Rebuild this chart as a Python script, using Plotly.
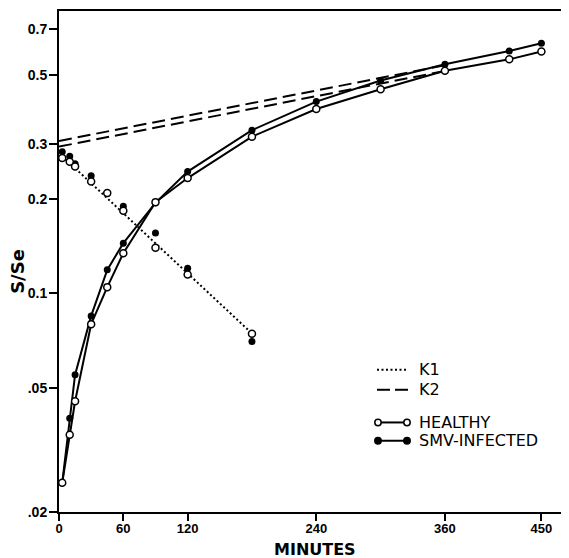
import plotly.graph_objects as go
import math

# ---- data ----
minutes = [3, 10, 15, 30, 45, 60, 90, 120, 180, 240, 300, 360, 420, 450]
healthy = [0.0248, 0.0353, 0.0452, 0.0798, 0.1048, 0.1346, 0.196, 0.234, 0.3175, 0.389, 0.450, 0.516, 0.561, 0.594]
smv = [0.0248, 0.0399, 0.055, 0.0848, 0.119, 0.1449, 0.195, 0.2454, 0.333, 0.411, 0.480, 0.541, 0.597, 0.632]

k1_minutes = [3, 10, 15, 30, 45, 60, 90, 120, 180]
k1_healthy = [0.2715, 0.264, 0.255, 0.228, 0.2095, 0.184, 0.140, 0.115, 0.0743]
k1_smv = [0.284, 0.275, 0.260, 0.238, 0.209, 0.190, 0.156, 0.1205, 0.0702]

k1_fit_minutes = [3, 180]
k1_fit = [0.275, 0.0745]
k2_fit_minutes = [0, 360]
k2_fit_healthy = [0.295, 0.515]
k2_fit_smv = [0.3076, 0.537]

x_ticks = [0, 60, 120, 240, 360, 450]
y_ticks = [0.02, 0.05, 0.1, 0.2, 0.3, 0.5, 0.7]
y_tick_text = [".02", ".05", "0.1", "0.2", "0.3", "0.5", "0.7"]

legend_labels = ["K1", "K2", "HEALTHY", "SMV-INFECTED"]

# ---- figure (page body has an 8px margin, so the figure is offset by 8px) ----
OFF = 8
W, H = 569 - OFF, 558 - OFF
ML, MR, MT, MB = 59 - OFF, 0, 11 - OFF, 558 - 512.3
PW, PH = W - ML - MR, H - MT - MB

fig = go.Figure()

fig.add_trace(go.Scatter(x=k1_fit_minutes, y=k1_fit, mode="lines",
                         line=dict(color="black", width=2, dash="2px,2.5px"), showlegend=False))
fig.add_trace(go.Scatter(x=k2_fit_minutes, y=k2_fit_smv, mode="lines",
                         line=dict(color="black", width=2, dash="13px,6px"), showlegend=False))
fig.add_trace(go.Scatter(x=k2_fit_minutes, y=k2_fit_healthy, mode="lines",
                         line=dict(color="black", width=2, dash="13px,6px"), showlegend=False))

fig.add_trace(go.Scatter(x=k1_minutes, y=k1_smv, mode="markers",
                         marker=dict(symbol="circle", size=7, color="black"), showlegend=False))
fig.add_trace(go.Scatter(x=k1_minutes, y=k1_healthy, mode="markers",
                         marker=dict(symbol="circle", size=7, color="white",
                                     line=dict(color="black", width=1.5)), showlegend=False))

fig.add_trace(go.Scatter(x=minutes, y=smv, mode="lines+markers",
                         line=dict(color="black", width=2),
                         marker=dict(symbol="circle", size=7, color="black"), showlegend=False))
fig.add_trace(go.Scatter(x=minutes, y=healthy, mode="lines+markers",
                         line=dict(color="black", width=2),
                         marker=dict(symbol="circle", size=7, color="white",
                                     line=dict(color="black", width=1.5)), showlegend=False))

# ---- hand-placed legend (window pixel positions converted to paper) ----
def px(xp):
    return (xp - OFF - ML) / PW

def py(yp):
    return (H - MB - (yp - OFF)) / PH

shapes = []
ann = []
rows = [370, 390, 422.7, 441]
sx0, sx1, tx = 377, 408, 417
shapes.append(dict(type="line", xref="paper", yref="paper", x0=px(sx0), x1=px(sx1),
                   y0=py(rows[0]), y1=py(rows[0]), line=dict(color="black", width=2, dash="2px,2.5px")))
shapes.append(dict(type="line", xref="paper", yref="paper", x0=px(sx0), x1=px(sx0 + 13),
                   y0=py(rows[1]), y1=py(rows[1]), line=dict(color="black", width=2)))
shapes.append(dict(type="line", xref="paper", yref="paper", x0=px(sx0 + 18), x1=px(sx1),
                   y0=py(rows[1]), y1=py(rows[1]), line=dict(color="black", width=2)))
for r, fill in [(rows[2], "white"), (rows[3], "black")]:
    shapes.append(dict(type="line", xref="paper", yref="paper", x0=px(sx0 + 1), x1=px(sx1 - 1),
                       y0=py(r), y1=py(r), line=dict(color="black", width=2)))
    for cx in (sx0 + 1, sx1 - 1):
        shapes.append(dict(type="circle", xref="paper", yref="paper",
                           xsizemode="pixel", ysizemode="pixel",
                           xanchor=px(cx), yanchor=py(r), x0=-3.2, x1=3.2, y0=-3.2, y1=3.2,
                           fillcolor=fill, line=dict(color="black", width=1.5)))
for r, lab in zip(rows, legend_labels):
    ann.append(dict(text=lab, xref="paper", yref="paper", x=px(tx), y=py(r),
                    xanchor="left", yanchor="middle", showarrow=False,
                    font=dict(family="DejaVu Sans", size=16, color="black")))

# axis titles placed as in the reference
ann.append(dict(text="<b>S/Se</b>", xref="paper", yref="paper", x=px(18), y=py(272),
                xanchor="center", yanchor="middle", textangle=-90, showarrow=False,
                font=dict(family="DejaVu Sans", size=18, color="black")))
ann.append(dict(text="<b>MINUTES</b>", xref="paper", yref="paper", x=px(315), y=py(550),
                xanchor="center", yanchor="middle", showarrow=False,
                font=dict(family="DejaVu Sans", size=16, color="black")))

fig.update_layout(
    width=W, height=H,
    margin=dict(l=ML, r=MR, t=MT, b=MB, pad=0),
    paper_bgcolor="white", plot_bgcolor="white",
    shapes=shapes, annotations=ann, showlegend=False,
    xaxis=dict(range=[0, PW / 1.072], tickvals=x_ticks, ticktext=[str(v) for v in x_ticks],
               showgrid=False, zeroline=False, showline=True, linecolor="black", linewidth=2,
               mirror=True, ticks="outside", ticklen=7, tickwidth=2, tickcolor="black",
               ticklabelstandoff=-4,
               tickfont=dict(family="Liberation Sans", size=13, color="black", weight="bold")),
    yaxis=dict(type="log", range=[math.log10(0.02), math.log10(0.801)],
               tickvals=y_ticks, ticktext=y_tick_text,
               showgrid=False, zeroline=False, showline=True, linecolor="black", linewidth=2,
               ticks="outside", ticklen=8, tickwidth=2, tickcolor="black",
               ticklabelstandoff=-1,
               tickfont=dict(family="Liberation Sans", size=14, color="black", weight="bold")),
)

fig.write_html("out.html")
